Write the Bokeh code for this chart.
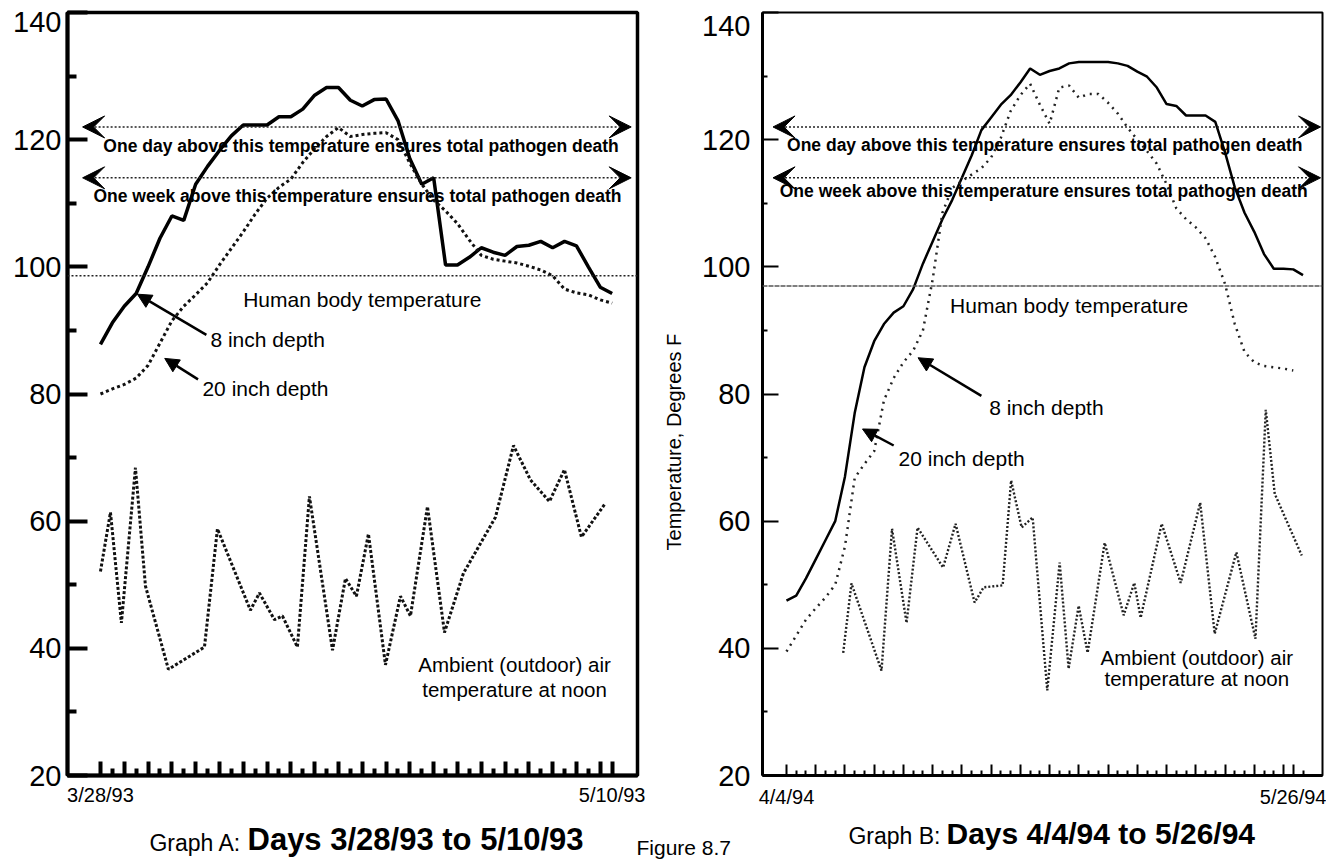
import math
from bokeh.plotting import figure
from bokeh.models import Range1d, FixedTicker, Label, Arrow, VeeHead, NormalHead, Span, LinearAxis
from bokeh.layouts import row, column
from bokeh.embed import file_html
from bokeh.resources import INLINE

FONT = "Liberation Sans"

# ---------------- Graph A (3/28/93 - 5/10/93) ----------------
a_days = list(range(44))
a_depth8 = [87.8, 91.2, 93.8, 95.8, 100, 104.5, 108, 107.3, 113, 115.8, 118.3,
            120.6, 122.3, 122.3, 122.3, 123.6, 123.6, 124.8, 127, 128.2, 128.2,
            126.2, 125.3, 126.3, 126.4, 123, 117, 113, 114, 100.3, 100.3, 101.5,
            103, 102.3, 101.8, 103.2, 103.4, 104, 103, 104, 103.3, 100, 96.8, 95.8]
a_depth20 = [80, 80.8, 81.5, 82.5, 84.5, 88, 91.5, 93.8, 95.6, 97.5, 100.3,
             102.9, 105.5, 108.3, 110.8, 112.5, 113.8, 116.4, 118.6, 120.5, 121.9,
             120.5, 120.8, 121, 121.1, 120, 116.3, 113, 110.5, 108.8, 106.8, 104.2,
             101.8, 101.2, 100.9, 100.6, 100.1, 99.5, 98.6, 96.5, 95.9, 95.6, 94.8, 94.3]
a_air_days = [0, 0.84, 1.76, 2.94, 3.78, 5.71, 8.74, 9.83, 12.6, 13.36, 14.62,
              15.29, 16.55, 17.56, 19.5, 20.59, 21.51, 22.52, 23.95, 25.21, 26.05,
              27.48, 28.91, 30.5, 33.19, 34.71, 36.13, 37.73, 38.99, 40.42, 42.35]
a_air = [52.1, 61.4, 44, 68.4, 49.8, 36.7, 40.2, 58.8, 46, 48.7, 44.5,
         45.1, 40.2, 63.9, 39.7, 51, 48.2, 58, 37.4, 48.2, 45.1,
         62.3, 42.5, 51.8, 60.6, 71.9, 66.5, 63.1, 68.1, 57.5, 62.6]
a_xlabels = {0: "3/28/93", 43: "5/10/93"}
a_body_temp = 98.6

# ---------------- Graph B (4/4/94 - 5/26/94) ----------------
b_days8 = list(range(54))
b_depth8 = [47.5, 48.3, 51, 54, 57, 60, 67, 77, 84.2, 88.3, 91, 92.8, 93.8,
            96.5, 100.5, 104, 107.5, 110.5, 114, 117.5, 121.5, 123.5, 125.5, 127,
            129, 131.2, 130.2, 130.8, 131.2, 132, 132.2, 132.2, 132.2, 132.2, 132,
            131.6, 130.7, 129.9, 128.2, 125.6, 125.3, 123.8, 123.8, 123.8, 122.8,
            118, 112.5, 108.5, 105.5, 102, 99.7, 99.7, 99.6, 98.7]
b_days20 = list(range(53))
b_depth20 = [39.5, 42, 44.5, 46.3, 48, 50, 56, 66.8, 69, 71, 79, 82.5, 85,
             86.8, 90, 98, 108.5, 112.4, 113.5, 114.5, 115.5, 117.2, 120.3, 124.5,
             127, 128.8, 125.5, 122.5, 128.2, 128.5, 126.6, 127.2, 127.2, 125.8,
             124.1, 121.9, 120, 118.2, 116.2, 113, 109.2, 107.5, 106.2, 104.5,
             101.5, 97.3, 91, 86.6, 85, 84.4, 84.2, 84, 83.7]
b_air_days = [5.82, 6.67, 9.75, 10.83, 12.32, 13.45, 16.07, 17.35, 19.3, 20.23,
              22.18, 23.05, 24.13, 25.26, 26.76, 28.03, 28.95, 29.98, 30.9, 32.65,
              34.6, 35.69, 36.34, 38.5, 40.45, 42.45, 43.94, 46.16, 48.12, 49.18,
              50.1, 52.87]
b_air = [39.3, 50.2, 36.5, 58.8, 44, 59, 52.7, 59.6, 47.2, 49.6,
         49.9, 66.4, 59, 60.6, 33.4, 53.5, 36.8, 46.7, 39.3, 56.6,
         45.2, 50.3, 44.8, 59.6, 50.3, 62.9, 42.3, 55.1, 41.5, 77.5,
         64.3, 54.6]
b_xlabels = {0: "4/4/94", 52: "5/26/94"}
b_body_temp = 97

# ---------------- shared ----------------
y_ticks = [20, 40, 60, 80, 100, 120, 140]
y_minor = [30, 50, 70, 90, 110, 130]
one_day_temp = 122
one_week_temp = 114
txt_one_day = "One day above this temperature ensures total pathogen death"
txt_one_week = "One week above this temperature ensures total pathogen death"
y_title = "Temperature, Degrees F"
title_a = ("Graph A:", "Days 3/28/93 to 5/10/93")
title_b = ("Graph B:", "Days 4/4/94 to 5/26/94")
fig_caption = "Figure 8.7"

MAIN_H = 817
STRIP_H = 44


def lab(p, x, y, text, size, align="center", baseline="middle", bold=False,
        x_offset=0, angle=0):
    p.add_layout(Label(x=x, y=y, text=text, text_font=FONT, text_font_size=f"{size}px",
                       text_font_style="bold" if bold else "normal", text_align=align,
                       text_baseline=baseline, x_offset=x_offset, angle=angle,
                       text_color="black"))


def style(p, lw_axis, lw_tick, ytick_in, ymin_in, xtick_in, xmin_in, standoff_y, standoff_x,
          xticks, xminor, xlabels, top_label_pos):
    p.grid.grid_line_color = None
    p.background_fill_color = "white"
    p.border_fill_color = "white"
    p.outline_line_color = "black"
    for ax in (p.xaxis[0], p.yaxis[0]):
        ax.axis_line_width = lw_axis
        ax.axis_line_color = "black"
        ax.major_tick_out = 0
        ax.minor_tick_out = 0
        ax.major_tick_line_width = lw_tick
        ax.minor_tick_line_width = lw_tick
        ax.major_tick_line_color = "black"
        ax.minor_tick_line_color = "black"
        ax.major_label_text_font = FONT
        ax.major_label_text_color = "black"
    # inner y axis: line and tick marks only
    yax = p.yaxis[0]
    yax.ticker = FixedTicker(ticks=y_ticks, minor_ticks=y_minor)
    yax.major_tick_in = ytick_in
    yax.minor_tick_in = ymin_in
    yax.major_label_standoff = 0
    yax.major_label_overrides = {float(t): "" for t in y_ticks}
    # outer y axis: tick labels only (top label sits a little below its tick, as in the scan)
    lab_pos = [float(t) for t in y_ticks[:-1]] + [top_label_pos]
    ov = {float(t): str(t) for t in y_ticks[:-1]}
    ov[top_label_pos] = str(y_ticks[-1])
    outer = LinearAxis(ticker=FixedTicker(ticks=lab_pos, minor_ticks=[]),
                       major_label_overrides=ov, axis_line_color=None,
                       major_tick_line_color=None, minor_tick_line_color=None,
                       major_tick_in=0, major_tick_out=0, minor_tick_in=0, minor_tick_out=0,
                       major_label_standoff=standoff_y, major_label_text_font=FONT,
                       major_label_text_font_size="29px", major_label_text_color="black")
    p.add_layout(outer, "left")
    xax = p.xaxis[0]
    xax.ticker = FixedTicker(ticks=xticks, minor_ticks=xminor)
    xax.major_tick_in = xtick_in
    xax.minor_tick_in = xmin_in
    xax.major_label_text_font_size = "20px"
    xax.major_label_standoff = standoff_x
    ovx = {float(t): "" for t in xticks}
    for k, v in xlabels.items():
        ovx[float(k)] = v
    xax.major_label_overrides = ovx


def blank(width, height):
    f = figure(width=width, height=height, x_range=Range1d(0, width), y_range=Range1d(0, height),
               x_axis_type=None, y_axis_type=None, min_border=0, toolbar_location=None,
               output_backend="svg")
    f.outline_line_color = None
    f.grid.grid_line_color = None
    f.border_fill_color = "white"
    f.background_fill_color = "white"
    return f


# ================= Graph A figure =================
pa = figure(width=645, height=MAIN_H, x_range=Range1d(-2.77, 45.13), y_range=Range1d(20, 140),
            min_border_left=67, min_border_right=8, min_border_top=12, min_border_bottom=32,
            toolbar_location=None, output_backend="svg")
a_major = list(range(0, 43, 2)) + [43]
a_minor = list(range(1, 43, 2))
style(pa, 4, 4, 20, 9, 14, 7, 6, 8, a_major, a_minor, a_xlabels, 138.45)
pa.outline_line_width = 3.5

pa.line(a_days, a_depth8, line_color="black", line_width=3.5)
pa.line(a_days, a_depth20, line_color="#111111", line_width=3, line_dash="3 3")
pa.line(a_air_days, a_air, line_color="#111111", line_width=3, line_dash="3 2")

pa.add_layout(Span(location=a_body_temp, dimension="width", line_color="#222222",
                   line_width=1.5, line_dash="2 2"))
for t in (one_day_temp, one_week_temp):
    pa.add_layout(Arrow(start=VeeHead(size=22, fill_color="black", line_color="black"),
                        end=VeeHead(size=22, fill_color="black", line_color="black"),
                        x_start=-1.5, y_start=t, x_end=44.6, y_end=t,
                        line_color="#222222", line_width=1.6, line_dash="2 2"))
lab(pa, 21.9, 119.0, txt_one_day, 17.5, bold=True)
lab(pa, 21.6, 111.1, txt_one_week, 17.5, bold=True)
lab(pa, 22.0, 94.8, "Human body temperature", 21)

pa.add_layout(Arrow(end=NormalHead(size=14, fill_color="black", line_color="black"),
                    x_start=8.9, y_start=89.3, x_end=3.1, y_end=95.7,
                    line_color="black", line_width=2.5))
lab(pa, 9.24, 88.5, "8 inch depth", 21, align="left")
pa.add_layout(Arrow(end=NormalHead(size=14, fill_color="black", line_color="black"),
                    x_start=8.2, y_start=82.3, x_end=5.4, y_end=85.6,
                    line_color="black", line_width=2.5))
lab(pa, 8.57, 80.8, "20 inch depth", 21, align="left")
lab(pa, 34.8, 37.5, "Ambient (outdoor) air", 20.5)
lab(pa, 34.8, 33.6, "temperature at noon", 20.5)

# ================= middle strip (y-axis title of Graph B) =================
mid = blank(52, MAIN_H)
lab(mid, 28, MAIN_H - 460, y_title, 20, angle=math.pi / 2)

# ================= Graph B figure =================
pb = figure(width=629, height=MAIN_H, x_range=Range1d(-2.46, 55.0), y_range=Range1d(20, 140),
            min_border_left=65, min_border_right=4, min_border_top=12, min_border_bottom=42,
            toolbar_location=None, output_backend="svg")
b_major = list(range(0, 52, 3)) + [52]
b_minor = [d for d in range(0, 54) if d not in b_major]
style(pb, 3, 2, 16, 5, 11, 5, 12, 10, b_major, b_minor, b_xlabels, 137.95)
pb.outline_line_width = 2

pb.line(b_days8, b_depth8, line_color="black", line_width=2.5)
pb.line(b_days20, b_depth20, line_color="#222222", line_width=2.5, line_dash="2 5")
pb.line(b_air_days, b_air, line_color="#222222", line_width=2.4, line_dash="2 2")

pb.add_layout(Span(location=b_body_temp, dimension="width", line_color="#555555",
                   line_width=1.5, line_dash="5 1"))
for t in (one_day_temp, one_week_temp):
    pb.add_layout(Arrow(start=VeeHead(size=22, fill_color="black", line_color="black"),
                        end=VeeHead(size=22, fill_color="black", line_color="black"),
                        x_start=-1.38, y_start=t, x_end=54.8, y_end=t,
                        line_color="#222222", line_width=1.6, line_dash="2 2"))
lab(pb, 26.5, 119.2, txt_one_day, 17.5, bold=True)
lab(pb, 26.4, 112.0, txt_one_week, 17.5, bold=True)
lab(pb, 29.0, 93.9, "Human body temperature", 21)

pb.add_layout(Arrow(end=NormalHead(size=14, fill_color="black", line_color="black"),
                    x_start=20.0, y_start=79.7, x_end=13.5, y_end=85.7,
                    line_color="black", line_width=2.5))
lab(pb, 20.8, 77.9, "8 inch depth", 21, align="left")
pb.add_layout(Arrow(end=NormalHead(size=14, fill_color="black", line_color="black"),
                    x_start=11.0, y_start=71.9, x_end=7.8, y_end=74.5,
                    line_color="black", line_width=2.5))
lab(pb, 11.5, 69.8, "20 inch depth", 21, align="left")
lab(pb, 42.1, 38.6, "Ambient (outdoor) air", 20.5)
lab(pb, 42.1, 35.3, "temperature at noon", 20.5)

# ================= bottom strip with graph titles =================
strip = blank(1326, STRIP_H)
lab(strip, 241, 861 - 842, title_a[0], 23, align="right")
lab(strip, 247, 861 - 839, title_a[1], 31, align="left", bold=True)
lab(strip, 940, 861 - 835, title_b[0], 23, align="right")
lab(strip, 946, 861 - 833, title_b[1], 30, align="left", bold=True)
lab(strip, 636, 861 - 847, fig_caption, 21, align="left")

layout = column(row(pa, mid, pb), strip)
open("out.html", "w").write(file_html(layout, INLINE))
